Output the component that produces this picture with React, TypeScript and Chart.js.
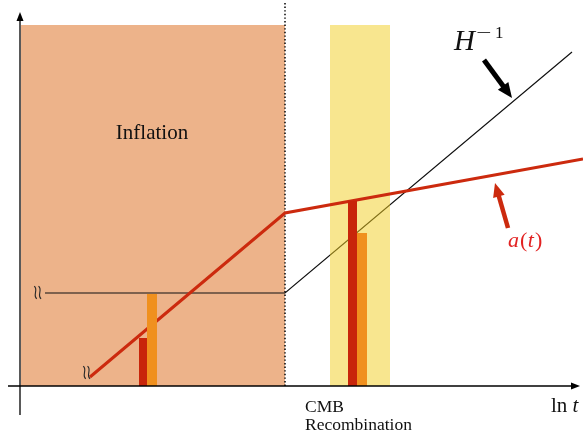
import React, { useEffect, useRef } from "react";
import { Chart, registerables } from "chart.js";

Chart.register(...registerables);

// Horizontal axis: ln t (arbitrary units, origin at the axes crossing)
// Vertical axis: comoving length scale (arbitrary units)

// Shaded epochs [start, end] on the ln t axis, and their common height
const inflationSpan = [1, 265];
const recombinationSpan = [310, 370];
const epochTop = 361;

// Comoving Hubble radius H^-1: constant during inflation, then growing
const hubbleX = [25, 265, 552];
const hubbleY = [93, 93, 334];

// Scale factor a(t): steep rise during inflation, slow growth afterwards
const scaleX = [70, 265, 563];
const scaleY = [9, 173, 227];

// Mode-size bars at the two epochs: [left, right] edges and heights
const waveBarEdges = [
  [119, 127],
  [328, 337],
];
const waveBarHeights = [48, 185];
const horizonBarEdges = [
  [127, 137],
  [337, 347],
];
const horizonBarHeights = [92, 153];

// Boundary between inflation and the later epochs
const endOfInflation = 265;
const dottedTop = 383;

// Axis extents
const xAxisSpan = [-12, 560];
const yAxisSpan = [-29, 374];

// Axis-break marks at the start of each curve
const breakMarks = [
  [17.5, 93.5],
  [66.5, 13.5],
];

const COLORS = {
  inflation: "#EDB38A",
  recombination: "rgba(241, 205, 31, 0.5)",
  hubble: "#111111",
  scale: "#CC2A0E",
  waveBar: "#C8250A",
  horizonBar: "#F0901E",
  label: "#E22222",
};

type Pt = { x: number; y: number };

const rect = (x0: number, x1: number, h: number): Pt[] => [
  { x: x0, y: 0 },
  { x: x0, y: h },
  { x: x1, y: h },
  { x: x1, y: 0 },
];

const zip = (xs: number[], ys: number[]): Pt[] => xs.map((x, i) => ({ x, y: ys[i] }));

function drawArrow(
  ctx: CanvasRenderingContext2D,
  x1: number,
  y1: number,
  x2: number,
  y2: number,
  shaft: number,
  headLen: number,
  headHalf: number,
  color: string
) {
  const ang = Math.atan2(y2 - y1, x2 - x1);
  const bx = x2 - headLen * Math.cos(ang);
  const by = y2 - headLen * Math.sin(ang);
  ctx.save();
  ctx.strokeStyle = color;
  ctx.fillStyle = color;
  if (shaft > 0) {
    ctx.lineWidth = shaft;
    ctx.lineCap = "butt";
    ctx.beginPath();
    ctx.moveTo(x1, y1);
    ctx.lineTo(bx + Math.cos(ang), by + Math.sin(ang));
    ctx.stroke();
  }
  const nx = -Math.sin(ang);
  const ny = Math.cos(ang);
  ctx.beginPath();
  ctx.moveTo(x2, y2);
  ctx.lineTo(bx + nx * headHalf, by + ny * headHalf);
  ctx.lineTo(bx - nx * headHalf, by - ny * headHalf);
  ctx.closePath();
  ctx.fill();
  ctx.restore();
}

// one vertical wiggle of a "≀≀" break mark
function wiggle(ctx: CanvasRenderingContext2D, x: number, y: number) {
  ctx.beginPath();
  ctx.moveTo(x - 1.3, y - 6.3);
  ctx.bezierCurveTo(x + 3.2, y - 3.2, x - 3.2, y + 3.2, x + 1.3, y + 6.3);
  ctx.stroke();
}

const annotations = {
  id: "annotations",
  afterDatasetsDraw(chart: any) {
    const ctx: CanvasRenderingContext2D = chart.ctx;
    const sx = chart.scales.x;
    const sy = chart.scales.y;
    const px = (v: number) => sx.getPixelForValue(v);
    const py = (v: number) => sy.getPixelForValue(v);

    // axis arrowheads
    drawArrow(ctx, px(0), py(yAxisSpan[0]), px(0), py(yAxisSpan[1]), 0, 9, 3.5, "#000");
    drawArrow(ctx, px(xAxisSpan[0]), py(0), px(xAxisSpan[1]), py(0), 0, 9, 3.5, "#000");

    // pointer arrows to the curves
    drawArrow(ctx, px(464), py(326), px(492), py(288), 5, 15, 6.5, "#000");
    drawArrow(ctx, px(488), py(158), px(475), py(203), 4.5, 14, 6, COLORS.scale);

    ctx.save();
    ctx.textBaseline = "alphabetic";

    // epoch labels
    ctx.fillStyle = "#111";
    ctx.textAlign = "center";
    ctx.font = '21px "Liberation Serif"';
    ctx.fillText("Inflation", px(132), py(247));

    ctx.textAlign = "left";
    ctx.font = '17.5px "Liberation Serif"';
    ctx.fillText("CMB", px(285), py(-26));
    ctx.fillText("Recombination", px(285), py(-44));

    // axis label ln t
    ctx.font = '21px "Liberation Serif"';
    ctx.fillText("ln", px(531), py(-26));
    const lnW = ctx.measureText("ln ").width;
    ctx.font = 'italic 21px "Liberation Serif"';
    ctx.fillText("t", px(531) + lnW, py(-26));

    // H^{-1}
    ctx.font = 'italic 29px "Liberation Serif"';
    ctx.fillText("H", px(434), py(336));
    ctx.font = '17px "Liberation Serif"';
    ctx.save();
    ctx.translate(px(456), py(348));
    ctx.scale(1.6, 1);
    ctx.fillText("\u2212", 0, 0);
    ctx.restore();
    ctx.fillText("1", px(475), py(348));

    // a(t)
    ctx.fillStyle = COLORS.label;
    let cx = px(488);
    const by = py(139);
    const parts: [string, boolean][] = [
      ["a", true],
      ["(", false],
      ["t", true],
      [")", false],
    ];
    for (const [s, it] of parts) {
      ctx.font = `${it ? "italic " : ""}22px "Liberation Serif"`;
      ctx.fillText(s, cx, by);
      cx += ctx.measureText(s).width + (it ? 1 : 0.5);
    }

    // axis-break marks
    ctx.strokeStyle = "#2a2a2a";
    ctx.lineWidth = 1.15;
    for (const [x, y] of breakMarks) {
      wiggle(ctx, px(x) - 2, py(y));
      wiggle(ctx, px(x) + 2.3, py(y));
    }
    ctx.restore();
  },
};

export default function App() {
  const canvasRef = useRef<HTMLCanvasElement | null>(null);

  useEffect(() => {
    document.body.style.margin = "0";
    const canvas = canvasRef.current;
    if (!canvas) return;

    const line = (data: Pt[], color: string, width: number, order: number, extra: any = {}) => ({
      data,
      borderColor: color,
      borderWidth: width,
      pointRadius: 0,
      fill: false,
      tension: 0,
      order,
      clip: false,
      ...extra,
    });
    const block = (data: Pt[], color: string, order: number) => ({
      data,
      borderWidth: 0,
      borderColor: "rgba(0,0,0,0)",
      backgroundColor: color,
      pointRadius: 0,
      fill: "origin",
      tension: 0,
      order,
      clip: false,
    });

    const datasets: any[] = [
      block(rect(inflationSpan[0], inflationSpan[1], epochTop), COLORS.inflation, 20),
      line(zip(hubbleX, hubbleY), COLORS.hubble, 1.2, 18),
      block(rect(recombinationSpan[0], recombinationSpan[1], epochTop), COLORS.recombination, 16),
      line(
        [
          { x: endOfInflation, y: 0 },
          { x: endOfInflation, y: dottedTop },
        ],
        "#111",
        1.6,
        15,
        { borderDash: [1.4, 2.2] }
      ),
      line(zip(scaleX, scaleY), COLORS.scale, 3, 14),
      ...waveBarEdges.map((e, i) => block(rect(e[0], e[1], waveBarHeights[i]), COLORS.waveBar, 12)),
      ...horizonBarEdges.map((e, i) => block(rect(e[0], e[1], horizonBarHeights[i]), COLORS.horizonBar, 12)),
      line(
        [
          { x: xAxisSpan[0], y: 0 },
          { x: xAxisSpan[1] - 6, y: 0 },
        ],
        "#000",
        1.3,
        5
      ),
      line(
        [
          { x: 0, y: yAxisSpan[0] },
          { x: 0, y: yAxisSpan[1] - 6 },
        ],
        "#000",
        1.3,
        5
      ),
    ];

    const chart = new Chart(canvas, {
      type: "line",
      data: { datasets },
      options: {
        responsive: false,
        animation: false,
        parsing: true,
        layout: { padding: 0 },
        scales: {
          x: { type: "linear", min: -20, max: 563, display: false },
          y: { type: "linear", min: -49, max: 386, display: false },
        },
        plugins: {
          legend: { display: false },
          tooltip: { enabled: false },
        },
        elements: { point: { radius: 0 } },
      },
      plugins: [annotations],
    });
    return () => chart.destroy();
  }, []);

  return (
    <div style={{ width: 583, height: 435 }}>
      <canvas ref={canvasRef} width={583} height={435} />
    </div>
  );
}
